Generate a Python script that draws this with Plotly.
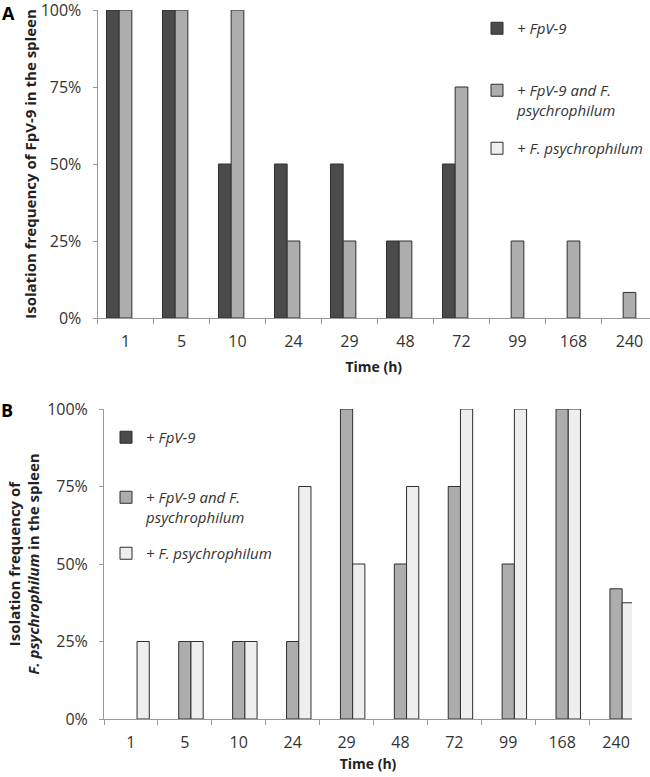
import plotly.graph_objects as go

# ---------------- data ----------------
time_labels = ["1", "5", "10", "24", "29", "48", "72", "99", "168", "240"]
series_names = ["+ FpV-9", "+ FpV-9 and F.<br>psychrophilum", "+ F. psychrophilum"]

# Panel A: isolation frequency of FpV-9 in the spleen
a_fpv9 = [1.00, 1.00, 0.50, 0.50, 0.50, 0.25, 0.50, 0.00, 0.00, 0.00]
a_both = [1.00, 1.00, 1.00, 0.25, 0.25, 0.25, 0.75, 0.25, 0.25, 0.083]
a_fpsy = [0.00, 0.00, 0.00, 0.00, 0.00, 0.00, 0.00, 0.00, 0.00, 0.00]

# Panel B: isolation frequency of F. psychrophilum in the spleen
b_fpv9 = [0.00, 0.00, 0.00, 0.00, 0.00, 0.00, 0.00, 0.00, 0.00, 0.00]
b_both = [0.00, 0.25, 0.25, 0.25, 1.00, 0.50, 0.75, 0.50, 1.00, 0.42]
b_fpsy = [0.25, 0.25, 0.25, 0.75, 0.50, 0.75, 1.00, 1.00, 1.00, 0.375]

y_ticks = [0, 0.25, 0.5, 0.75, 1.0]

# ---------------- style ----------------
W, H = 650, 777
FONT = "Open Sans"
fills = ["#4b4b4b", "#adadad", "#eeeeee"]
edge = "#2f2f2f"
axis_col = "#9a9a9a"
txt_col = "#333333"


def px_x(v):
    return v / W


def px_y(v):
    return 1 - v / H


fig = go.Figure()

panels = [
    ("x", "y", [a_fpv9, a_both, a_fpsy], ["legend", "legend2", "legend3"]),
    ("x2", "y2", [b_fpv9, b_both, b_fpsy], ["legend4", "legend5", "legend6"]),
]
for xa, ya, vals, legs in panels:
    for i, (name, v) in enumerate(zip(series_names, vals)):
        # zero values are drawn as empty (no flat outline), like the original
        fig.add_trace(go.Bar(
            x=time_labels, y=[val if val != 0 else None for val in v],
            name=name, xaxis=xa, yaxis=ya,
            marker=dict(color=fills[i], line=dict(color=edge, width=1)),
            legend=legs[i], showlegend=True,
        ))

axis_common = dict(
    showline=True, linecolor=axis_col, linewidth=1,
    ticks="outside", tickcolor=axis_col, ticklen=5, tickwidth=1,
    showgrid=False, zeroline=False, automargin=False,
    ticklabeloverflow="allow",
    tickfont=dict(family=FONT, size=16, color=txt_col),
)

xcommon = dict(axis_common, type="category", tickson="boundaries",
               ticklabelstandoff=9)

ycommon = dict(axis_common, range=[0, 1], tickvals=y_ticks, tickformat=".0%",
               ticklen=4, ticklabelstandoff=8)

xtitle_font = dict(family=FONT, size=14, color="#222222")
ytitle_font = dict(family=FONT, size=15, color="#222222")

fig.update_layout(
    width=W, height=H,
    margin=dict(l=0, r=0, t=0, b=0),
    paper_bgcolor="white", plot_bgcolor="white",
    barmode="group", bargap=0.32, bargroupgap=0,
    font=dict(family=FONT, color=txt_col),
    xaxis=dict(xcommon, domain=[px_x(97.5), 1.0], range=[-0.5, 9.366], anchor="y",
               title=dict(text="<b>Time (h)</b>", font=xtitle_font, standoff=10)),
    yaxis=dict(ycommon, domain=[px_y(318), px_y(10)], anchor="x",
               title=dict(text="<b>Isolation frequency of FpV-9 in the spleen</b>",
                          font=ytitle_font, standoff=0)),
    xaxis2=dict(xcommon, domain=[px_x(104), px_x(632)], range=[-0.5, 9.296], anchor="y2",
                title=dict(text="<b>Time (h)</b>", font=xtitle_font, standoff=6)),
    yaxis2=dict(ycommon, domain=[px_y(719), px_y(409)], anchor="x2",
                title=dict(text="<b>Isolation frequency of<br><i>F. psychrophilum</i> in the spleen</b>",
                           font=ytitle_font, standoff=3)),
)

leg_font = dict(family=FONT, size=15, color=txt_col, style="italic")
leg_pos = {
    "legend": (477, 12),
    "legend2": (477, 74),
    "legend3": (477, 132),
    "legend4": (106, 421),
    "legend5": (106, 481),
    "legend6": (106, 537),
}
for key, (lx, ly) in leg_pos.items():
    fig.update_layout({key: dict(
        x=px_x(lx), y=px_y(ly), xanchor="left", yanchor="top",
        xref="paper", yref="paper",
        bgcolor="rgba(0,0,0,0)", borderwidth=0,
        font=leg_font, valign="top", itemclick=False, itemdoubleclick=False,
    )})

fig.add_annotation(text="<b>A</b>", x=px_x(1), y=px_y(12.5), xref="paper", yref="paper",
                   xanchor="left", yanchor="middle", showarrow=False, borderpad=0,
                   font=dict(family=FONT, size=18, color="black"))
fig.add_annotation(text="<b>B</b>", x=px_x(0), y=px_y(410), xref="paper", yref="paper",
                   xanchor="left", yanchor="middle", showarrow=False, borderpad=0,
                   font=dict(family=FONT, size=18, color="black"))

fig.write_html("out.html",
               config={"displayModeBar": False},
               post_script="document.body.style.margin='0px';document.body.style.overflow='hidden';")
